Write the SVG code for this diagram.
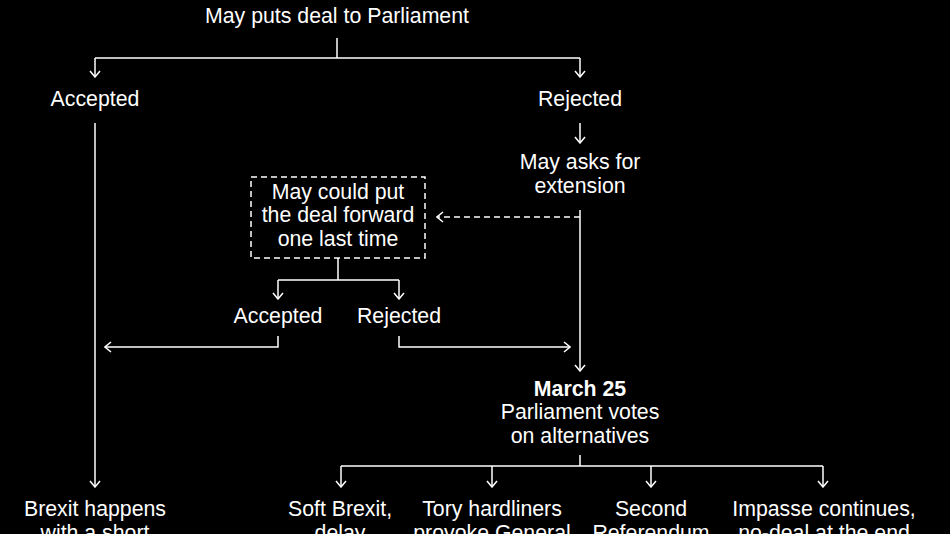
<svg xmlns="http://www.w3.org/2000/svg" width="950" height="534" viewBox="0 0 950 534">
<defs>
<marker id="arr" viewBox="0 0 12 12" refX="11" refY="6" markerWidth="12" markerHeight="12" markerUnits="userSpaceOnUse" orient="auto">
<path d="M5,1 L11,6 L5,11" fill="none" stroke="#fff" stroke-width="1.5"/>
</marker>
</defs>
<style>
text{font-family:"Liberation Sans",Arial,sans-serif;font-size:21.3px;fill:#fff;text-anchor:middle}
.b{font-weight:bold}
.c{fill:none;stroke:#fff;stroke-width:1.5}
.d{stroke-dasharray:6,4}
</style>
<rect width="950" height="534" fill="#000"/>
<g id="connectors">
<path class="c" d="M337,38 V58"/>
<path class="c" d="M95,58 H580"/>
<path class="c" d="M95,58 V77" marker-end="url(#arr)"/>
<path class="c" d="M580,58 V77" marker-end="url(#arr)"/>
<path class="c" d="M95,123 V487" marker-end="url(#arr)"/>
<path class="c" d="M580,123 V143" marker-end="url(#arr)"/>
<path class="c" d="M580,210 V371" marker-end="url(#arr)"/>
<path class="c d" d="M580,217 H437" marker-end="url(#arr)"/>
<path class="c" d="M338,258 V280 M278,280 H399"/>
<path class="c" d="M278,280 V299" marker-end="url(#arr)"/>
<path class="c" d="M399,280 V299" marker-end="url(#arr)"/>
<path class="c" d="M278,336 V347 H105" marker-end="url(#arr)"/>
<path class="c" d="M399,336 V347 H570" marker-end="url(#arr)"/>
<path class="c" d="M580,455 V466 M341,466 H823"/>
<path class="c" d="M341,466 V487" marker-end="url(#arr)"/>
<path class="c" d="M492,466 V487" marker-end="url(#arr)"/>
<path class="c" d="M651,466 V487" marker-end="url(#arr)"/>
<path class="c" d="M823,466 V487" marker-end="url(#arr)"/>
</g>
<g id="n-top"><text x="337" y="23">May puts deal to Parliament</text></g>
<g id="n-accepted"><text x="95" y="106">Accepted</text></g>
<g id="n-rejected"><text x="580" y="106">Rejected</text></g>
<g id="n-extension"><text x="580" y="169">May asks for</text><text x="580" y="193">extension</text></g>
<g id="n-lasttime">
<rect class="c d" x="251" y="177" width="174" height="81"/>
<text x="338" y="199">May could put</text><text x="338" y="222">the deal forward</text><text x="338" y="246">one last time</text>
</g>
<g id="n-accepted2"><text x="278" y="323">Accepted</text></g>
<g id="n-rejected2"><text x="399" y="323">Rejected</text></g>
<g id="n-march"><text class="b" x="580" y="396">March 25</text><text x="580" y="419">Parliament votes</text><text x="580" y="443">on alternatives</text></g>
<g id="n-brexit"><text x="95" y="516">Brexit happens</text><text x="95" y="540">with a short</text></g>
<g id="n-soft"><text x="340" y="516">Soft Brexit,</text><text x="340" y="540">delay</text></g>
<g id="n-tory"><text x="492" y="516">Tory hardliners</text><text x="492" y="540">provoke General</text></g>
<g id="n-second"><text x="651" y="516">Second</text><text x="651" y="540">Referendum</text></g>
<g id="n-impasse"><text x="824" y="516">Impasse continues,</text><text x="824" y="540">no-deal at the end</text></g>
</svg>
